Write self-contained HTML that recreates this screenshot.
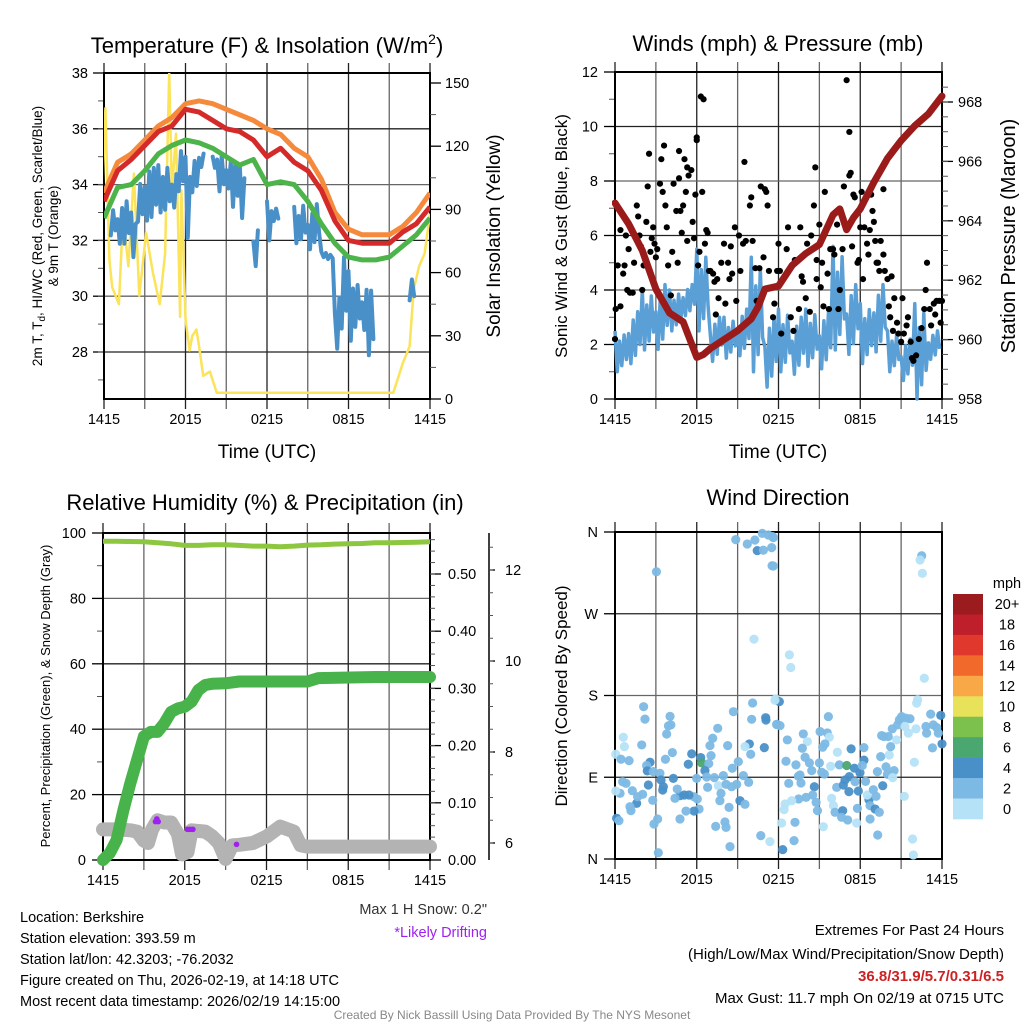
<!DOCTYPE html>
<html><head><meta charset="utf-8">
<style>
html,body{margin:0;padding:0;background:#fff;}
svg{display:block;font-family:"Liberation Sans",Arial,sans-serif;}
</style></head>
<body>
<svg id="svg" width="1024" height="1024" viewBox="0 0 1024 1024" xmlns="http://www.w3.org/2000/svg">
<rect width="1024" height="1024" fill="#fff"/>
<g id="layer"></g>
<text x="267" y="53" font-size="22" text-anchor="middle">Temperature (F) &amp; Insolation (W/m<tspan font-size="14" dy="-9">2</tspan><tspan dy="9">)</tspan></text>
<text x="778" y="51" font-size="22" text-anchor="middle">Winds (mph) &amp; Pressure (mb)</text>
<text x="265" y="510" font-size="22" text-anchor="middle">Relative Humidity (%) &amp; Precipitation (in)</text>
<text x="778" y="505" font-size="22" text-anchor="middle">Wind Direction</text>

<text transform="translate(42,236) rotate(-90)" font-size="13.5" text-anchor="middle">2m T, T<tspan font-size="10" dy="3">d</tspan><tspan dy="-3">, HI/WC (Red, Green, Scarlet/Blue)</tspan></text>
<text transform="translate(58,236) rotate(-90)" font-size="13.5" text-anchor="middle">&amp; 9m T (Orange)</text>
<text transform="translate(500,236) rotate(-90)" font-size="19" text-anchor="middle">Solar Insolation (Yellow)</text>
<text x="267" y="458" font-size="19" text-anchor="middle">Time (UTC)</text>
<text transform="translate(567,236) rotate(-90)" font-size="17" text-anchor="middle">Sonic Wind &amp; Gust (Blue, Black)</text>
<text transform="translate(1015,236) rotate(-90)" font-size="20" text-anchor="middle">Station Pressure (Maroon)</text>
<text x="778" y="458" font-size="19" text-anchor="middle">Time (UTC)</text>
<text transform="translate(50,696) rotate(-90)" font-size="13" text-anchor="middle">Percent, Precipitation (Green), &amp; Snow Depth (Gray)</text>
<text transform="translate(567,696) rotate(-90)" font-size="17" text-anchor="middle">Direction (Colored By Speed)</text>

<g font-size="14.5">
<text x="20" y="922">Location: Berkshire</text>
<text x="20" y="943">Station elevation: 393.59 m</text>
<text x="20" y="964">Station lat/lon: 42.3203; -76.2032</text>
<text x="20" y="985">Figure created on Thu, 2026-02-19, at 14:18 UTC</text>
<text x="20" y="1006">Most recent data timestamp: 2026/02/19 14:15:00</text>
</g>
<text x="487" y="914" font-size="14.5" text-anchor="end" fill="#333">Max 1 H Snow: 0.2"</text>
<text x="487" y="937" font-size="14.5" text-anchor="end" fill="#a020f0">*Likely Drifting</text>
<g font-size="15" text-anchor="end">
<text x="1004" y="935">Extremes For Past 24 Hours</text>
<text x="1004" y="959">(High/Low/Max Wind/Precipitation/Snow Depth)</text>
<text x="1004" y="981" fill="#cc2222" font-weight="bold">36.8/31.9/5.7/0.31/6.5</text>
<text x="1004" y="1003">Max Gust: 11.7 mph On 02/19 at 0715 UTC</text>
</g>
<text x="512" y="1019" font-size="12" text-anchor="middle" fill="#888">Created By Nick Bassill Using Data Provided By The NYS Mesonet</text>
</svg>
<script>
// ---------- data ----------
const timeLabels = ["1415","2015","0215","0815","1415"];
const hours = [0,1,2,3,4,5,6,7,8,9,10,11,12,13,14,15,16,17,18,19,20,21,22,23,24];
const temp9m = [33.7,34.8,35.1,35.6,36.1,36.4,36.9,37.0,36.9,36.7,36.5,36.3,36.0,35.8,35.3,35.0,34.2,33.0,32.4,32.2,32.2,32.2,32.5,33.0,33.7];
const temp2m = [33.4,34.5,34.9,35.4,35.9,36.1,36.7,36.6,36.3,36.0,35.9,35.6,35.0,35.3,34.8,34.5,33.8,32.7,32.0,31.9,31.9,31.9,32.3,32.6,33.2];
const hiwc = [32.8,33.9,34.0,34.5,35.1,35.4,35.6,35.5,35.3,35.0,34.7,34.9,34.0,34.1,34.0,33.4,32.6,31.9,31.4,31.3,31.3,31.4,31.8,32.2,32.8];
// dew point, per half hour: low / high of the spread (null = missing)
const dewLo = [null,32,31.8,31.5,31.4,32.4,32.6,32.4,33,32.8,33.1,33.4,32.1,33.5,34.6,null,34.6,33.5,33.8,32.8,32.8,null,31,null,32,32.6,null,null,31.9,31.8,31.6,31.6,31.4,31.3,28,28.2,28.4,28.6,28.7,27.3,null,null,null,null,null,29.7,null,null,null];
const dewHi = [null,33.2,33.4,33.4,33,34.2,34.8,34.6,34.7,34.8,34.6,35.2,35.0,35.0,35.2,null,35.0,35.2,35.0,34.8,34.7,null,32.6,null,33.4,33.2,null,null,33.2,33.4,33.2,33.3,31.6,31.5,30.3,31.4,30.9,30.6,30.5,30.2,null,null,null,null,null,30.7,null,null,null];
const solarT = [-0.1,0.1,0.4,0.6,1.1,1.4,1.8,2.2,2.6,3.1,3.6,4.1,4.5,4.8,5.0,5.3,5.6,5.7,6.0,6.3,6.5,6.8,7.0,7.3,7.8,8.3,21.3,22.0,22.5,22.8,23.2,23.6,24];
const solarV = [100,138,66,53,45,87,63,107,49,79,60,45,69,155,98,126,39,99,38,23,30,33,25,11,13,3,3,17,25,52,63,69,88];

const pressT = [0,1,2,3,4,5,6,6.5,7,8,9,10,10.5,11,12,13,14,15,16,16.5,17,17.5,18,19,20,21,22,23,24];
const pressV = [964.6,963.9,963.0,961.7,960.9,960.6,959.4,959.5,959.7,960.0,960.3,960.7,961.1,961.7,961.8,962.5,962.9,963.2,964.2,964.4,963.7,964.1,964.4,965.3,966.1,966.7,967.2,967.6,968.2];
const windLo = [1.0,1.2,1.8,1.7,2.5,3.0,2.5,1.3,1.5,1.5,1.0,0.3,1.0,0.8,1.2,1.0,1.8,1.5,1.3,1.6,1.0,0.6,0.0,1.4];
const windHi = [2.5,3.2,4.0,4.2,4.0,4.2,5.5,3.0,3.0,3.3,5.2,3.0,3.3,3.0,3.3,3.2,5.6,4.2,3.5,4.2,2.5,2.2,3.5,2.5];
const gustT = [0,0.05,0.2,0.4,0.4,0.6,0.7,0.8,0.9,1.0,1.1,1.3,1.4,1.6,1.7,1.8,1.9,2.0,2.1,2.3,2.4,2.5,2.6,2.7,2.8,2.9,3.0,3.1,3.3,3.4,3.5,3.6,3.7,3.8,3.9,4.1,4.2,4.3,4.5,4.6,4.7,4.7,4.8,4.9,5.0,5.1,5.2,5.3,5.3,5.4,5.6,5.7,5.8,5.9,6.0,6.0,6.1,6.2,6.3,6.5,6.4,6.6,6.7,6.8,6.9,7.0,7.2,7.3,7.4,7.5,7.6,7.8,8.0,8.1,8.3,8.4,8.5,8.6,8.8,8.9,9.1,9.2,9.4,9.5,9.6,9.9,10.0,10.1,10.3,10.4,10.6,10.7,10.9,11.0,11.1,11.2,11.3,11.6,11.7,11.9,12.0,12.1,12.2,12.6,12.7,12.9,13.1,13.2,13.5,13.6,13.7,13.8,14.0,14.1,14.3,14.4,14.6,14.7,14.8,14.8,15.0,15.1,15.2,15.3,15.4,15.6,15.7,15.8,16.0,16.1,16.3,16.4,16.5,16.7,16.8,16.9,17.0,17.2,17.2,17.3,17.4,17.5,17.6,17.8,17.9,18.0,18.1,18.2,18.3,18.5,18.6,18.7,18.8,18.9,19.0,19.1,19.2,19.3,19.4,19.5,19.7,19.7,19.8,20.0,20.1,20.2,20.3,20.4,20.5,20.7,20.8,21.0,21.1,21.2,21.4,21.5,21.7,21.8,21.9,22.1,22.3,22.5,22.7,22.8,22.9,23.1,23.2,23.4,23.5,23.6,23.8,23.9,24.0];
const gustV = [2.2,3.3,4.9,3.4,6.2,4.6,4.9,6.0,4.0,5.5,3.9,3.9,5.0,7.1,6.7,6.0,5.6,4.0,4.9,6.5,7.8,9.0,5.4,5.9,6.3,5.7,5.2,5.5,7.9,8.8,7.6,9.3,7.1,6.3,4.9,3.8,5.4,7.9,6.9,5.0,8.1,9.1,6.9,6.1,7.1,8.8,7.6,5.8,8.5,8.2,8.4,6.5,5.9,7.5,9.5,9.6,4.9,5.4,11.1,11.0,7.6,5.7,6.2,6.1,4.7,4.7,4.6,4.3,3.1,4.4,3.7,5.0,5.7,3.5,5.0,4.4,5.6,4.6,6.3,3.6,6.0,4.7,5.7,8.7,5.8,7.1,7.4,5.8,4.8,3.6,4.8,7.8,5.2,7.7,7.6,7.1,4.7,3.0,3.5,4.7,5.7,4.7,2.4,5.5,6.3,3.0,2.5,5.1,3.3,6.3,4.5,4.3,3.7,5.7,3.2,6.0,7.1,8.5,5.1,4.4,6.4,4.1,5.0,3.4,7.6,4.6,3.3,5.5,5.5,5.3,6.4,3.3,4.0,5.5,7.8,6.4,11.7,8.2,9.8,8.3,5.6,7.5,7.4,5.0,5.1,6.3,7.6,4.4,6.3,5.7,5.3,6.2,7.5,6.9,6.5,5.8,5.0,5.0,4.7,5.8,7.7,5.3,4.7,4.4,3.4,3.0,4.5,2.5,3.7,2.8,2.4,2.1,3.7,2.4,2.7,3.0,2.1,1.5,1.4,1.6,2.2,2.6,3.3,4.0,5.0,3.3,2.7,3.5,3.1,3.6,3.6,2.8,3.6];

const rhV = [97.5,97.5,97.4,97.3,97,96.7,96.2,96.2,96.4,96.4,96.2,96,96,95.8,96,96.3,96.4,96.6,96.7,96.8,97,97,97.1,97.2,97.3];
const precipT = [0,0.5,1,1.5,2,2.5,3,3.5,4,4.5,5,5.5,6,6.5,7,7.5,8,9,10,15,15.8,20,24];
const precipV = [0,0.012,0.035,0.087,0.134,0.175,0.216,0.224,0.224,0.239,0.259,0.265,0.268,0.277,0.297,0.306,0.308,0.309,0.312,0.312,0.318,0.320,0.320];
const snowT = [0,1,2,2.5,3,3.3,3.6,4,4.5,5,5.5,5.8,6.2,6.5,7.5,8,8.5,9,9.5,10,11,12,13,14,14.5,15,24];
const snowV = [6.30,6.30,6.28,6.25,6.05,6.0,6.3,6.5,6.45,6.45,6.2,5.75,5.8,6.28,6.25,6.15,6.0,5.65,5.95,5.96,6.0,6.14,6.36,6.25,5.95,5.92,5.92];
const driftT = [3.85,3.95,4.05,6.2,6.4,6.6,9.8];
const driftV = [6.47,6.53,6.47,6.3,6.3,6.3,5.97];

const dirT = [8.86,9.71,10.27,10.44,10.81,11.25,11.62,10.89,11.53,3.04,10.2,2.1,2.2,4.04,3.92,4.1,3.79,0.61,0.69,0.05,0.44,1.03,1.96,2.57,2.32,2.37,3.7,4.21,5.63,6.29,5.38,6.36,6.88,6.6,7.05,6.97,7.17,7.54,8.27,8.69,10.1,10.03,11.06,11.08,11.87,11.79,9.86,9.54,9.96,10.96,9.05,8.61,7.95,7.29,6.73,5.99,9.42,9.81,8.93,8.56,7.59,8.15,7.78,7.7,6.8,6.04,6.17,5.8,5.21,4.77,5.8,5.43,5.09,4.77,4.4,4.57,4.28,3.55,3.5,3.3,3.38,2.77,2.45,2.81,2.03,1.59,1.66,1.27,1.1,1.17,0.81,0.56,0.37,0.05,0.12,0.29,3.13,2.86,3.18,7.39,8.07,8.15,8.37,8.44,9.17,9.54,10.7,11.37,
11.57,11.5,11.62,22.51,22.39,22.56,12.8,12.9,22.7,12.06,11.74,15.66,11.87,12.11,12.65,13.82,14.12,15.05,15.58,15.73,15.41,15.24,13.75,13.95,12.55,13.28,14.27,14.44,15.0,15.17,15.37,13.58,13.46,12.75,13.65,14.63,14.51,14.02,13.48,12.97,12.48,12.41,14.76,14.86,13.21,12.23,13.14,12.31,15.29,15.9,16.03,16.27,16.15,16.71,16.63,17.08,16.32,15.83,16.47,17.01,17.33,17.57,17.2,16.88,16.76,17.17,17.86,17.62,17.98,18.27,18.27,18.15,18.39,18.64,18.52,18.96,19.16,18.72,19.09,19.4,18.72,17.79,17.74,19.28,19.26,19.65,19.5,19.89,19.99,20.48,20.38,20.13,20.23,19.74,20.06,19.57,20.35,20.67,20.75,20.87,21.04,21.36,21.65,21.53,21.28,22.09,22.14,22.21,22.82,22.87,23.17,23.36,23.61,23.73,23.91,24.0,23.3,21.97,21.23,21.84,21.9];
const dirD = [351.6,346.8,351.2,339.5,358.5,356.7,353.8,340,322.9,316.3,242,167.7,154,157,146.6,147.7,137.6,134,123.7,115.3,109.8,108.3,125.6,106.5,102.9,97,109.8,117.2,115.7,111.7,104.3,105.8,105,97.3,113.8,124.8,132.9,143.9,124.8,162.2,171.8,153.8,155.6,153,148.3,176.2,126.7,123.7,115.3,122.6,107.2,99.9,91.8,89.6,90.3,88.8,91.8,84.4,82.2,79.6,80.7,82.2,72.3,64.2,78.9,66,55,52.8,52.8,44,68.6,70.5,70.5,69.7,66.8,77,88.8,79.6,76,94.3,87,64.6,81.5,96.2,71.2,61.3,68.6,75.2,57.6,53.2,83.3,85.1,72.3,74.9,44.8,42.2,44,38.5,6.9,35.9,40.7,34.8,56.8,13.6,64.2,60.2,25.7,19.1,
354.9,342.8,322.6,333.9,329.2,314.5,224.7,210.8,199,173.3,174.8,156.8,148,146.9,131.1,137.7,129.3,140.3,138.8,134.1,126.7,123,121.9,112,107.6,103.6,105.8,97.3,105.8,95.5,93.6,92.5,91.1,83.3,83.7,79.6,70.5,67.9,66.1,64.2,60.6,54.3,62.4,53.2,40.4,39.6,20.2,10.3,35.6,66.8,58.7,78.9,51.4,53.2,45.9,43,117.5,102.1,103.6,102.9,121.2,100,90.7,87,81.5,74.2,74.9,85.1,95,108.9,122.6,102.9,85.5,65.3,70.5,76.3,69,58.7,55,51.4,44,55.7,39.6,26.4,96.2,80.7,112.7,101.4,93.3,97.3,89.6,114.5,123.7,134.8,134.8,135.9,143.3,131.1,147.7,153.2,156.8,155,154.4,138.6,145.9,143.3,171.6,175.3,145.9,138.6,159.5,147.7,144.8,138.6,158.1,126.7,122.3,106.5,69,22,4.4];
const dirS = [3,3,3,5,3,3,3,3,3,3,1,3,3,3,3,3,3,1,1,1,3,3,3,5,3,5,3,3,5,5,5,7,3,5,3,3,3,3,3,3,3,3,5,5,3,1,5,1,3,5,3,3,3,3,3,3,3,3,3,3,1,3,3,3,3,3,3,5,3,3,3,5,5,5,3,3,5,5,5,3,5,3,5,3,3,5,3,3,3,3,3,3,3,1,5,3,3,3,3,3,3,3,3,3,5,3,3,1,
3,3,3,3,1,1,1,1,1,5,1,3,3,3,3,3,1,3,3,1,3,3,3,3,3,3,3,3,3,3,3,3,3,3,3,5,3,3,3,1,1,1,3,3,3,1,3,5,1,1,1,3,3,5,3,3,1,1,3,7,5,5,5,5,5,5,5,3,5,5,3,3,3,5,1,3,3,3,5,3,3,3,1,3,3,5,3,3,3,3,1,1,3,3,3,3,3,1,3,3,3,3,3,1,1,1,1,1,3,3,3,3,3,3,5,5,3,1,1,1,1];
const speedBins = ["20+","18","16","14","12","10","8","6","4","2","0"];
const binColors = ["#9b1b1e","#bf1f2a","#e0382c","#f2692c","#f8a847","#e8e15a","#7cc04e","#4aa76f","#4a90c8","#7cb9e4","#b5e2f7"];

// ---------- helpers ----------
const NS="http://www.w3.org/2000/svg";
const layer=document.getElementById('layer');
function el(tag,attrs,parent){const e=document.createElementNS(NS,tag);for(const k in attrs)e.setAttribute(k,attrs[k]);(parent||layer).appendChild(e);return e;}
function lin(d0,d1,r0,r1){return v=>r0+(v-d0)*(r1-r0)/(d1-d0);}
function txt(x,y,s,size,anchor,parent){const t=el('text',{x:x,y:y,'font-size':size,'text-anchor':anchor||'middle'},parent);t.textContent=s;return t;}
function poly(xs,ys,fx,fy){return xs.map((t,i)=>fx(t).toFixed(1)+','+fy(ys[i]).toFixed(1)).join(' ');}

function panel(name,X0,X1,Y0,Y1,fy,leftTicks,leftMinor,leftLabels,labelX,gridH){
  const g=el('g',{});
  
  
  const fx=lin(0,24,X0,X1);
  for(let h=0;h<=24;h+=3){
    const x=fx(h);
    const l=el('line',{x1:x,x2:x,y1:Y0-10,y2:Y1+10,stroke:(h%6==0?'#222':'#666'),'stroke-width':1.3},g);
    
    
  }
  timeLabels.forEach((s,i)=>{const t=txt(fx(i*6),Y1+25,s,14.5,'middle',g);
    
    });
  leftTicks.forEach((v,i)=>{
    const y=fy(v);
    if(gridH){const l=el('line',{x1:X0,x2:X1,y1:y,y2:y,stroke:(i%2?'#222':'#666'),'stroke-width':1.3},g);
      
      }
    el('line',{x1:X0-11,x2:X0,y1:y,y2:y,stroke:'#000','stroke-width':1.3},g);
    const t=txt(labelX,y+5,leftLabels[i],14.5,'end',g);
    
    
  });
  leftMinor.forEach(v=>{const y=fy(v);el('line',{x1:X0-6,x2:X0,y1:y,y2:y,stroke:'#555','stroke-width':1},g);});
  el('rect',{x:X0,y:Y0,width:X1-X0,height:Y1-Y0,fill:'none',stroke:'#000','stroke-width':2},g);
  return {g,fx};
}
function range(a,b,s){const r=[];for(let v=a;v<=b+1e-9;v+=s)r.push(+v.toFixed(3));return r;}
const zigPattern=[1,0,0.75,0.15,0.9,0.3,0.6,0.05,0.85,0.2,1,0.4];
function zig(lo,hi,slot,fx,fy,n){
  const segs=[];let cur=[];
  lo.forEach((l,i)=>{
    if(l===null){if(cur.length)segs.push(cur);cur=[];return;}
    for(let k=0;k<n;k++){const t=i*slot+k*slot/n;const f=zigPattern[(i*n+k)%zigPattern.length];
      cur.push(fx(t).toFixed(1)+','+fy(lo[i]+(hi[i]-lo[i])*f).toFixed(1));}
  });
  if(cur.length)segs.push(cur);
  return segs;
}

// ---------- Panel 1: temperature ----------
(function(){
  const fy=lin(38,28,73,352);
  const fr=lin(0,150,399,83);
  const p=panel('temperature-panel',104,430,73,399,fy,[38,36,34,32,30,28],range(27,37,1),["38","36","34","32","30","28"],88,true);
  const g=p.g,fx=p.fx;
  [0,30,60,90,120,150].forEach(v=>{const y=fr(v);el('line',{x1:430,x2:441,y1:y,y2:y,stroke:'#000','stroke-width':1.3},g);
    const t=txt(445,y+5,String(v),14.5,'start',g);
    
    });
  range(15,135,30).forEach(v=>{const y=fr(v);el('line',{x1:430,x2:436,y1:y,y2:y,stroke:'#555'},g);});
  const clip=el('clipPath',{id:'c1'},g);el('rect',{x:104,y:73,width:326,height:326},clip);
  const gg=el('g',{'clip-path':'url(#c1)'},g);
  const s=el('polyline',{points:poly(solarT,solarV,fx,fr),fill:'none',stroke:'#fbe35a','stroke-width':2.5,'stroke-linejoin':'round'},gg);
  
  
  zig(dewLo,dewHi,0.5,fx,fy,3).forEach(seg=>{
    const l=el('polyline',{points:seg.join(' '),fill:'none',stroke:'#4a90c8','stroke-width':4,'stroke-linejoin':'round','stroke-linecap':'round'},gg);
    
    
  });
  [[hiwc,'#4cb44a','hiwc-line'],[temp9m,'#f68a3c','temp-9m-line'],[temp2m,'#d42a2a','temp-2m-line']].forEach(a=>{
    const l=el('polyline',{points:poly(hours,a[0],fx,fy),fill:'none',stroke:a[1],'stroke-width':5,'stroke-linejoin':'round'},gg);
    
    
  });
})();

// ---------- Panel 2: wind & pressure ----------
(function(){
  const fy=lin(0,12,399,72);
  const fp=lin(958,968,399,102);
  const p=panel('wind-panel',615,942,72,399,fy,[0,2,4,6,8,10,12],range(1,11,2),["0","2","4","6","8","10","12"],598,true);
  const g=p.g,fx=p.fx;
  [958,960,962,964,966,968].forEach(v=>{const y=fp(v);el('line',{x1:942,x2:953,y1:y,y2:y,stroke:'#000','stroke-width':1.3},g);
    const t=txt(958,y+5,String(v),14.5,'start',g);
    
    });
  range(958.5,968.5,0.5).forEach(v=>{const y=fp(v);if(y>72)el('line',{x1:942,x2:948,y1:y,y2:y,stroke:'#555'},g);});
  const clip=el('clipPath',{id:'c2'},g);el('rect',{x:612,y:70,width:335,height:331},clip);
  const gg=el('g',{'clip-path':'url(#c2)'},g);
  zig(windLo,windHi,1,fx,fy,6).forEach(seg=>{
    const l=el('polyline',{points:seg.join(' '),fill:'none',stroke:'#5a9fd6','stroke-width':3.5,'stroke-linejoin':'round'},gg);
    
    
  });
  gustT.forEach((t,i)=>{
    const c=el('circle',{cx:fx(t),cy:fy(gustV[i]),r:3.1,fill:'#000'},gg);
    
    
  });
  const l=el('polyline',{points:poly(pressT,pressV,fx,fp),fill:'none',stroke:'#9b1b1b','stroke-width':7,'stroke-linejoin':'round','stroke-linecap':'round'},gg);
  
  
})();

// ---------- Panel 3: RH & precip ----------
(function(){
  const fy=lin(0,100,860,533);
  const fpr=lin(0,0.5,860,574);
  const fs=lin(6,12,843,570);
  const p=panel('humidity-panel',103,430,533,860,fy,[0,20,40,60,80,100],range(10,90,20),["0","20","40","60","80","100"],86,true);
  const g=p.g,fx=p.fx;
  [0,0.1,0.2,0.3,0.4,0.5].forEach(v=>{const y=fpr(v);el('line',{x1:430,x2:441,y1:y,y2:y,stroke:'#000','stroke-width':1.3},g);
    const t=txt(448,y+5,v.toFixed(2),14.5,'start',g);
    
    });
  range(0.02,0.56,0.02).forEach(v=>{const y=fpr(v);el('line',{x1:430,x2:435,y1:y,y2:y,stroke:'#555'},g);});
  el('line',{x1:489,x2:489,y1:533,y2:860,stroke:'#000','stroke-width':1.5},g);
  [6,8,10,12].forEach(v=>{const y=fs(v);el('line',{x1:489,x2:495,y1:y,y2:y,stroke:'#000','stroke-width':1.3},g);
    const t=txt(505,y+5,String(v),14.5,'start',g);
    
    });
  range(5.5,12.5,0.5).forEach(v=>{const y=fs(v);if(y>535&&y<858)el('line',{x1:489,x2:493,y1:y,y2:y,stroke:'#555'},g);});
  const clip=el('clipPath',{id:'c3'},g);el('rect',{x:95,y:528,width:345,height:340},clip);
  const gg=el('g',{'clip-path':'url(#c3)'},g);
  const sn=el('polyline',{points:poly(snowT,snowV,fx,fs),fill:'none',stroke:'#b3b3b3','stroke-width':14,'stroke-linejoin':'round','stroke-linecap':'round'},gg);
  
  
  const pr=el('polyline',{points:poly(precipT,precipV,fx,fpr),fill:'none',stroke:'#48b34a','stroke-width':12,'stroke-linejoin':'round','stroke-linecap':'round'},gg);
  
  
  const rh=el('polyline',{points:poly(hours,rhV,fx,fy),fill:'none',stroke:'#8dc63f','stroke-width':5,'stroke-linejoin':'round'},gg);
  
  
  driftT.forEach((t,i)=>{
    const c=el('circle',{cx:fx(t),cy:fs(driftV[i]),r:2.8,fill:'#a020f0'},gg);
    
    
  });
})();

// ---------- Panel 4: wind direction ----------
(function(){
  const fy=lin(0,360,859,532);
  const p=panel('direction-panel',615,942,532,859,fy,[0,90,180,270,360],[],["N","E","S","W","N"],598,true);
  const g=p.g,fx=p.fx;
  function col(s){return binColors[10-Math.min(10,Math.floor(s/2))];}
  dirT.forEach((t,i)=>{
    const c=el('circle',{cx:fx(Math.max(0,t)),cy:fy(dirD[i]),r:4.6,fill:col(dirS[i]),'fill-opacity':0.95},g);
    
    
  });
  const lg=el('g',{});
  
  
  const h=225/11;
  speedBins.forEach((s,i)=>{
    el('rect',{x:953,y:594+i*h,width:30,height:h+0.3,fill:binColors[i]},lg);
    const t=txt(1007,594+i*h+h/2+5,s,14.5,'middle',lg);
    
    
  });
  txt(1007,588,'mph',14.5,'middle',lg);
})();
</script>
</body></html>
